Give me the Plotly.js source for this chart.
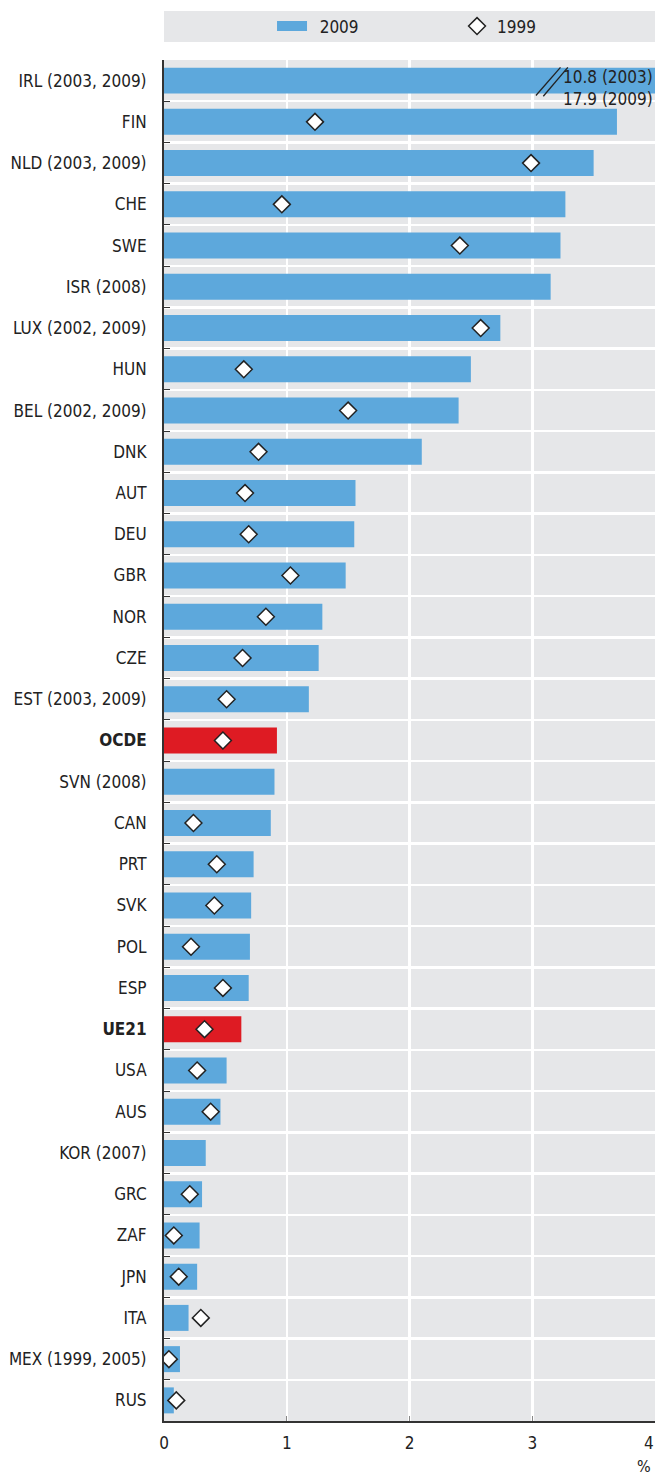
<!DOCTYPE html>
<html>
<head>
<meta charset="utf-8">
<script src="https://cdn.plot.ly/plotly-3.0.1.min.js"></script>
<style>html,body{margin:0;padding:0;background:#fff;}#chart{width:656px;height:1476px;}</style>
</head>
<body>
<div id="chart"></div>
<script>
const countries = ["IRL (2003, 2009)","FIN","NLD (2003, 2009)","CHE","SWE","ISR (2008)","LUX (2002, 2009)","HUN","BEL (2002, 2009)","DNK","AUT","DEU","GBR","NOR","CZE","EST (2003, 2009)","OCDE","SVN (2008)","CAN","PRT","SVK","POL","ESP","UE21","USA","AUS","KOR (2007)","GRC","ZAF","JPN","ITA","MEX (1999, 2005)","RUS"];
const aggregates = ["OCDE","UE21"];
const values2009 = [17.9,3.69,3.50,3.27,3.23,3.15,2.74,2.50,2.40,2.10,1.56,1.55,1.48,1.29,1.26,1.18,0.92,0.90,0.87,0.73,0.71,0.70,0.69,0.63,0.51,0.46,0.34,0.31,0.29,0.27,0.20,0.13,0.08];
const values1999 = [10.8,1.23,2.99,0.96,2.41,null,2.58,0.65,1.50,0.77,0.66,0.69,1.03,0.83,0.64,0.51,0.48,null,0.24,0.43,0.41,0.22,0.48,0.33,0.27,0.38,null,0.21,0.08,0.12,0.30,0.04,0.10];
const xTickVals = [0,1,2,3,4];
const irlNote = "10.8 (2003)<br>17.9 (2009)";

const font = "'Liberation Sans Narrow', 'DejaVu Sans Condensed', 'Arial Narrow', sans-serif";
const blue = "#5DA8DC", red = "#DE1B23";
const labels = countries.map(c => aggregates.includes(c) ? "<b>" + c + "</b>" : c);
const barColors = countries.map(c => aggregates.includes(c) ? red : blue);
const lastTick = xTickVals[xTickVals.length - 1];
// last tick label sits right-aligned at the plot edge (drawn as an annotation)
const xTickText = xTickVals.map(v => v === lastTick ? "" : String(v));

const traces = [
  {
    type: "bar", orientation: "h", name: "2009",
    x: values2009, y: labels,
    marker: {color: barColors, line: {width: 0}},
    width: 0.63, showlegend: false,
    hoverinfo: "x+y"
  },
  {
    // legend entry for the 2009 bars (wide swatch)
    type: "scatter", mode: "lines", name: "\u20022009",
    x: [null], y: [null],
    line: {color: blue, width: 13},
    hoverinfo: "skip"
  },
  {
    type: "scatter", mode: "markers", name: "1999",
    x: values1999, y: labels,
    marker: {symbol: "diamond", size: 13, color: "#ffffff", line: {color: "#222", width: 1.5}},
    cliponaxis: true
  }
];

const layout = {
  width: 656, height: 1476,
  margin: {l: 164, r: 1, t: 60, b: 55},
  paper_bgcolor: "#ffffff",
  plot_bgcolor: "#E6E7E9",
  font: {family: font, size: 17, color: "#222"},
  showlegend: true,
  legend: {
    orientation: "h", x: 0.22, xanchor: "left", y: 1.0246, yanchor: "middle",
    bgcolor: "rgba(0,0,0,0)", font: {size: 17, family: font, color: "#222"},
    entrywidth: 140, entrywidthmode: "pixels", itemwidth: 30
  },
  xaxis: {
    range: [0, 4], tickvals: xTickVals, ticktext: xTickText,
    showgrid: true, gridcolor: "#ffffff", gridwidth: 2.5,
    zeroline: false, showline: true, linecolor: "#333", linewidth: 2,
    ticks: "inside", ticklen: 5, tickcolor: "#888", tickwidth: 1,
    ticklabelstandoff: 6,
    tickfont: {size: 17, family: font, color: "#222"},
    fixedrange: true
  },
  yaxis: {
    type: "category", range: [countries.length - 0.5, -0.5], autorange: false,
    tickson: "boundaries", showgrid: true, gridcolor: "#ffffff", gridwidth: 2.5,
    showline: true, linecolor: "#333", linewidth: 2,
    ticks: "inside", ticklen: 6, tickcolor: "#333", tickwidth: 1,
    ticklabelstandoff: 12,
    tickfont: {size: 17, family: font, color: "#222"},
    fixedrange: true
  },
  shapes: [
    {type: "rect", xref: "paper", yref: "paper", x0: 0, x1: 1, y0: 1.0132, y1: 1.036, fillcolor: "#E6E7E9", line: {width: 0}, layer: "below"},
    {type: "line", xref: "x", yref: "y", x0: 3.03, x1: 3.23, y0: 0.36, y1: -0.32, line: {color: "#222", width: 1.3}},
    {type: "line", xref: "x", yref: "y", x0: 3.09, x1: 3.29, y0: 0.38, y1: -0.32, line: {color: "#222", width: 1.3}}
  ],
  annotations: [
    {xref: "x", yref: "y", x: 4, y: labels[0], xanchor: "right", yanchor: "middle", yshift: -7, text: irlNote, showarrow: false, align: "right", font: {size: 17, family: font, color: "#222"}},
    {xref: "x", yref: "paper", x: lastTick, y: 0, xanchor: "right", yanchor: "top", yshift: -10, xshift: 1, text: String(lastTick), showarrow: false, font: {size: 17, family: font, color: "#222"}},
    {xref: "paper", yref: "paper", x: 0.995, y: 0, xanchor: "right", yanchor: "top", yshift: -34, text: "%", showarrow: false, font: {size: 16, family: font, color: "#222"}}
  ]
};

Plotly.newPlot("chart", traces, layout, {displayModeBar: false, staticPlot: true});
</script>
</body>
</html>
